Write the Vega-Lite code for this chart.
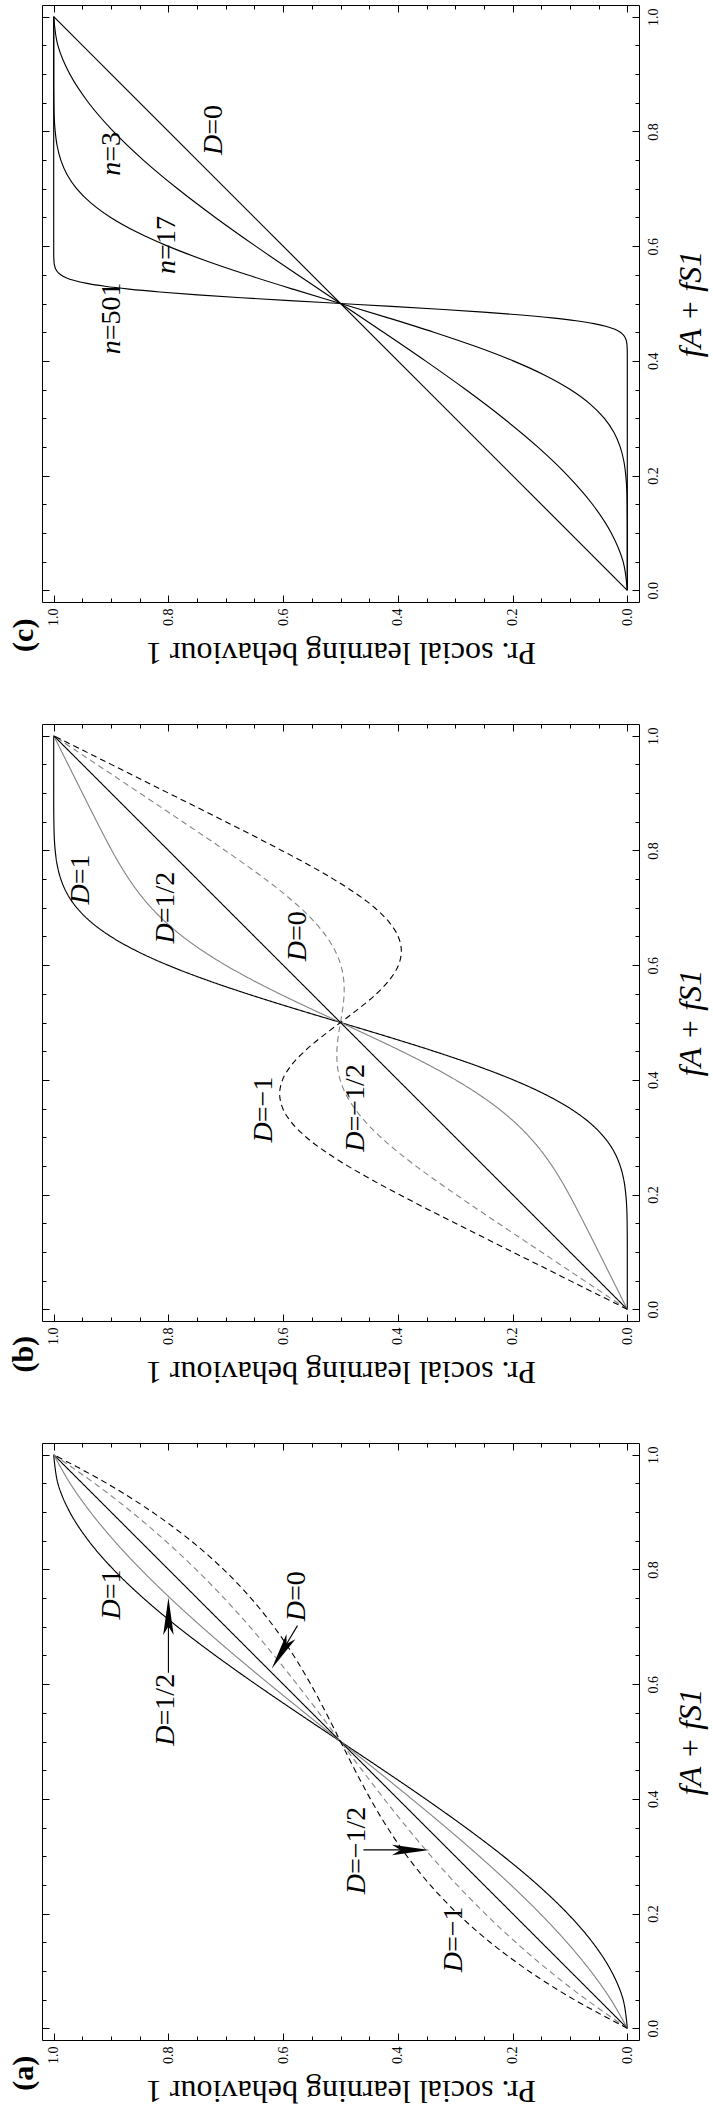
{
"$schema":"https://vega.github.io/schema/vega-lite/v6.json",
"background":"white",
"padding":{"left":8,"top":4,"right":2,"bottom":2},
"spacing":122,
"bounds":"flush",
"config":{"view":{"stroke":"black","strokeWidth":1},"text":{"font":"Liberation Serif","color":"black"},
"axis":{"domain":false,"grid":false,"tickColor":"black","tickWidth":1,"labelColor":"black","titleColor":"black","labelFont":"Liberation Serif","labelFontSize":14,"titleFont":"Liberation Serif","titleFontSize":32,"titleFontWeight":"normal","labelFlush":false,"labelOverlap":false,"labelBound":false}},
"datasets":{
"a":[
{"s":"D=1","f":0,"P":0},{"s":"D=1","f":0.05,"P":0.00725},{"s":"D=1","f":0.1,"P":0.028},{"s":"D=1","f":0.15,"P":0.06075},{"s":"D=1","f":0.2,"P":0.104},{"s":"D=1","f":0.25,"P":0.15625},{"s":"D=1","f":0.3,"P":0.216},{"s":"D=1","f":0.35,"P":0.28175},{"s":"D=1","f":0.4,"P":0.352},{"s":"D=1","f":0.45,"P":0.42525},{"s":"D=1","f":0.5,"P":0.5},{"s":"D=1","f":0.55,"P":0.57475},{"s":"D=1","f":0.6,"P":0.648},{"s":"D=1","f":0.65,"P":0.71825},{"s":"D=1","f":0.7,"P":0.784},{"s":"D=1","f":0.75,"P":0.84375},{"s":"D=1","f":0.8,"P":0.896},{"s":"D=1","f":0.85,"P":0.93925},{"s":"D=1","f":0.9,"P":0.972},{"s":"D=1","f":0.95,"P":0.99275},{"s":"D=1","f":1,"P":1},
{"s":"D=1/2","f":0,"P":0},{"s":"D=1/2","f":0.05,"P":0.0286},{"s":"D=1/2","f":0.1,"P":0.064},{"s":"D=1/2","f":0.15,"P":0.1054},{"s":"D=1/2","f":0.2,"P":0.152},{"s":"D=1/2","f":0.25,"P":0.2031},{"s":"D=1/2","f":0.3,"P":0.258},{"s":"D=1/2","f":0.35,"P":0.3159},{"s":"D=1/2","f":0.4,"P":0.376},{"s":"D=1/2","f":0.45,"P":0.4376},{"s":"D=1/2","f":0.5,"P":0.5},{"s":"D=1/2","f":0.55,"P":0.5624},{"s":"D=1/2","f":0.6,"P":0.624},{"s":"D=1/2","f":0.65,"P":0.6841},{"s":"D=1/2","f":0.7,"P":0.742},{"s":"D=1/2","f":0.75,"P":0.7969},{"s":"D=1/2","f":0.8,"P":0.848},{"s":"D=1/2","f":0.85,"P":0.8946},{"s":"D=1/2","f":0.9,"P":0.936},{"s":"D=1/2","f":0.95,"P":0.9714},{"s":"D=1/2","f":1,"P":1},
{"s":"D=0","f":0,"P":0},{"s":"D=0","f":1,"P":1},
{"s":"D=-1/2","f":0,"P":0},{"s":"D=-1/2","f":0.05,"P":0.0714},{"s":"D=-1/2","f":0.1,"P":0.136},{"s":"D=-1/2","f":0.15,"P":0.1946},{"s":"D=-1/2","f":0.2,"P":0.248},{"s":"D=-1/2","f":0.25,"P":0.2969},{"s":"D=-1/2","f":0.3,"P":0.342},{"s":"D=-1/2","f":0.35,"P":0.3841},{"s":"D=-1/2","f":0.4,"P":0.424},{"s":"D=-1/2","f":0.45,"P":0.4624},{"s":"D=-1/2","f":0.5,"P":0.5},{"s":"D=-1/2","f":0.55,"P":0.5376},{"s":"D=-1/2","f":0.6,"P":0.576},{"s":"D=-1/2","f":0.65,"P":0.6159},{"s":"D=-1/2","f":0.7,"P":0.658},{"s":"D=-1/2","f":0.75,"P":0.7031},{"s":"D=-1/2","f":0.8,"P":0.752},{"s":"D=-1/2","f":0.85,"P":0.8054},{"s":"D=-1/2","f":0.9,"P":0.864},{"s":"D=-1/2","f":0.95,"P":0.9286},{"s":"D=-1/2","f":1,"P":1},
{"s":"D=-1","f":0,"P":0},{"s":"D=-1","f":0.05,"P":0.09275},{"s":"D=-1","f":0.1,"P":0.172},{"s":"D=-1","f":0.15,"P":0.23925},{"s":"D=-1","f":0.2,"P":0.296},{"s":"D=-1","f":0.25,"P":0.34375},{"s":"D=-1","f":0.3,"P":0.384},{"s":"D=-1","f":0.35,"P":0.41825},{"s":"D=-1","f":0.4,"P":0.448},{"s":"D=-1","f":0.45,"P":0.47475},{"s":"D=-1","f":0.5,"P":0.5},{"s":"D=-1","f":0.55,"P":0.52525},{"s":"D=-1","f":0.6,"P":0.552},{"s":"D=-1","f":0.65,"P":0.58175},{"s":"D=-1","f":0.7,"P":0.616},{"s":"D=-1","f":0.75,"P":0.65625},{"s":"D=-1","f":0.8,"P":0.704},{"s":"D=-1","f":0.85,"P":0.76075},{"s":"D=-1","f":0.9,"P":0.828},{"s":"D=-1","f":0.95,"P":0.90725},{"s":"D=-1","f":1,"P":1}
],
"b":[
{"s":"D=1","f":0,"P":0},{"s":"D=1","f":0.025,"P":0},{"s":"D=1","f":0.05,"P":0},{"s":"D=1","f":0.075,"P":0},{"s":"D=1","f":0.1,"P":0.00001},{"s":"D=1","f":0.125,"P":0.00005},{"s":"D=1","f":0.15,"P":0.0003},{"s":"D=1","f":0.175,"P":0.0009},{"s":"D=1","f":0.2,"P":0.0026},{"s":"D=1","f":0.225,"P":0.006},{"s":"D=1","f":0.25,"P":0.0124},{"s":"D=1","f":0.275,"P":0.0232},{"s":"D=1","f":0.3,"P":0.0403},{"s":"D=1","f":0.325,"P":0.0652},{"s":"D=1","f":0.35,"P":0.0994},{"s":"D=1","f":0.375,"P":0.1439},{"s":"D=1","f":0.4,"P":0.1989},{"s":"D=1","f":0.425,"P":0.264},{"s":"D=1","f":0.45,"P":0.3374},{"s":"D=1","f":0.475,"P":0.4171},{"s":"D=1","f":0.5,"P":0.5},{"s":"D=1","f":0.525,"P":0.5829},{"s":"D=1","f":0.55,"P":0.6626},{"s":"D=1","f":0.575,"P":0.736},{"s":"D=1","f":0.6,"P":0.8011},{"s":"D=1","f":0.625,"P":0.8561},{"s":"D=1","f":0.65,"P":0.9006},{"s":"D=1","f":0.675,"P":0.9348},{"s":"D=1","f":0.7,"P":0.9597},{"s":"D=1","f":0.725,"P":0.9768},{"s":"D=1","f":0.75,"P":0.9876},{"s":"D=1","f":0.775,"P":0.994},{"s":"D=1","f":0.8,"P":0.9974},{"s":"D=1","f":0.825,"P":0.9991},{"s":"D=1","f":0.85,"P":0.9997},{"s":"D=1","f":0.875,"P":0.99995},{"s":"D=1","f":0.9,"P":0.99999},{"s":"D=1","f":0.925,"P":1},{"s":"D=1","f":0.95,"P":1},{"s":"D=1","f":0.975,"P":1},{"s":"D=1","f":1,"P":1},
{"s":"D=1/2","f":0,"P":0},{"s":"D=1/2","f":0.025,"P":0.0125},{"s":"D=1/2","f":0.05,"P":0.025},{"s":"D=1/2","f":0.075,"P":0.0375},{"s":"D=1/2","f":0.1,"P":0.05},{"s":"D=1/2","f":0.125,"P":0.0625},{"s":"D=1/2","f":0.15,"P":0.0752},{"s":"D=1/2","f":0.175,"P":0.088},{"s":"D=1/2","f":0.2,"P":0.1013},{"s":"D=1/2","f":0.225,"P":0.1155},{"s":"D=1/2","f":0.25,"P":0.1312},{"s":"D=1/2","f":0.275,"P":0.1491},{"s":"D=1/2","f":0.3,"P":0.1702},{"s":"D=1/2","f":0.325,"P":0.1951},{"s":"D=1/2","f":0.35,"P":0.2247},{"s":"D=1/2","f":0.375,"P":0.2595},{"s":"D=1/2","f":0.4,"P":0.2995},{"s":"D=1/2","f":0.425,"P":0.3445},{"s":"D=1/2","f":0.45,"P":0.3937},{"s":"D=1/2","f":0.475,"P":0.4461},{"s":"D=1/2","f":0.5,"P":0.5},{"s":"D=1/2","f":0.525,"P":0.5539},{"s":"D=1/2","f":0.55,"P":0.6063},{"s":"D=1/2","f":0.575,"P":0.6555},{"s":"D=1/2","f":0.6,"P":0.7005},{"s":"D=1/2","f":0.625,"P":0.7405},{"s":"D=1/2","f":0.65,"P":0.7753},{"s":"D=1/2","f":0.675,"P":0.8049},{"s":"D=1/2","f":0.7,"P":0.8298},{"s":"D=1/2","f":0.725,"P":0.8509},{"s":"D=1/2","f":0.75,"P":0.8688},{"s":"D=1/2","f":0.775,"P":0.8845},{"s":"D=1/2","f":0.8,"P":0.8987},{"s":"D=1/2","f":0.825,"P":0.912},{"s":"D=1/2","f":0.85,"P":0.9248},{"s":"D=1/2","f":0.875,"P":0.9375},{"s":"D=1/2","f":0.9,"P":0.95},{"s":"D=1/2","f":0.925,"P":0.9625},{"s":"D=1/2","f":0.95,"P":0.975},{"s":"D=1/2","f":0.975,"P":0.9875},{"s":"D=1/2","f":1,"P":1},
{"s":"D=0","f":0,"P":0},{"s":"D=0","f":1,"P":1},
{"s":"D=-1/2","f":0,"P":0},{"s":"D=-1/2","f":0.025,"P":0.0375},{"s":"D=-1/2","f":0.05,"P":0.075},{"s":"D=-1/2","f":0.075,"P":0.1125},{"s":"D=-1/2","f":0.1,"P":0.15},{"s":"D=-1/2","f":0.125,"P":0.1875},{"s":"D=-1/2","f":0.15,"P":0.2249},{"s":"D=-1/2","f":0.175,"P":0.2621},{"s":"D=-1/2","f":0.2,"P":0.2987},{"s":"D=-1/2","f":0.225,"P":0.3345},{"s":"D=-1/2","f":0.25,"P":0.3688},{"s":"D=-1/2","f":0.275,"P":0.4009},{"s":"D=-1/2","f":0.3,"P":0.4299},{"s":"D=-1/2","f":0.325,"P":0.4549},{"s":"D=-1/2","f":0.35,"P":0.4753},{"s":"D=-1/2","f":0.375,"P":0.4906},{"s":"D=-1/2","f":0.4,"P":0.5006},{"s":"D=-1/2","f":0.425,"P":0.5055},{"s":"D=-1/2","f":0.45,"P":0.5063},{"s":"D=-1/2","f":0.475,"P":0.504},{"s":"D=-1/2","f":0.5,"P":0.5},{"s":"D=-1/2","f":0.525,"P":0.496},{"s":"D=-1/2","f":0.55,"P":0.4937},{"s":"D=-1/2","f":0.575,"P":0.4945},{"s":"D=-1/2","f":0.6,"P":0.4994},{"s":"D=-1/2","f":0.625,"P":0.5094},{"s":"D=-1/2","f":0.65,"P":0.5247},{"s":"D=-1/2","f":0.675,"P":0.5451},{"s":"D=-1/2","f":0.7,"P":0.5701},{"s":"D=-1/2","f":0.725,"P":0.5991},{"s":"D=-1/2","f":0.75,"P":0.6312},{"s":"D=-1/2","f":0.775,"P":0.6655},{"s":"D=-1/2","f":0.8,"P":0.7013},{"s":"D=-1/2","f":0.825,"P":0.7379},{"s":"D=-1/2","f":0.85,"P":0.7751},{"s":"D=-1/2","f":0.875,"P":0.8125},{"s":"D=-1/2","f":0.9,"P":0.85},{"s":"D=-1/2","f":0.925,"P":0.8875},{"s":"D=-1/2","f":0.95,"P":0.925},{"s":"D=-1/2","f":0.975,"P":0.9625},{"s":"D=-1/2","f":1,"P":1},
{"s":"D=-1","f":0,"P":0},{"s":"D=-1","f":0.025,"P":0.05},{"s":"D=-1","f":0.05,"P":0.1},{"s":"D=-1","f":0.075,"P":0.15},{"s":"D=-1","f":0.1,"P":0.2},{"s":"D=-1","f":0.125,"P":0.25},{"s":"D=-1","f":0.15,"P":0.2997},{"s":"D=-1","f":0.175,"P":0.3491},{"s":"D=-1","f":0.2,"P":0.3974},{"s":"D=-1","f":0.225,"P":0.444},{"s":"D=-1","f":0.25,"P":0.4876},{"s":"D=-1","f":0.275,"P":0.5268},{"s":"D=-1","f":0.3,"P":0.5597},{"s":"D=-1","f":0.325,"P":0.5848},{"s":"D=-1","f":0.35,"P":0.6006},{"s":"D=-1","f":0.375,"P":0.6061},{"s":"D=-1","f":0.4,"P":0.6011},{"s":"D=-1","f":0.425,"P":0.586},{"s":"D=-1","f":0.45,"P":0.5626},{"s":"D=-1","f":0.475,"P":0.5329},{"s":"D=-1","f":0.5,"P":0.5},{"s":"D=-1","f":0.525,"P":0.4671},{"s":"D=-1","f":0.55,"P":0.4374},{"s":"D=-1","f":0.575,"P":0.414},{"s":"D=-1","f":0.6,"P":0.3989},{"s":"D=-1","f":0.625,"P":0.3939},{"s":"D=-1","f":0.65,"P":0.3994},{"s":"D=-1","f":0.675,"P":0.4152},{"s":"D=-1","f":0.7,"P":0.4403},{"s":"D=-1","f":0.725,"P":0.4732},{"s":"D=-1","f":0.75,"P":0.5124},{"s":"D=-1","f":0.775,"P":0.556},{"s":"D=-1","f":0.8,"P":0.6026},{"s":"D=-1","f":0.825,"P":0.6509},{"s":"D=-1","f":0.85,"P":0.7003},{"s":"D=-1","f":0.875,"P":0.75},{"s":"D=-1","f":0.9,"P":0.8},{"s":"D=-1","f":0.925,"P":0.85},{"s":"D=-1","f":0.95,"P":0.9},{"s":"D=-1","f":0.975,"P":0.95},{"s":"D=-1","f":1,"P":1}
],
"c":[
{"s":"n=3","f":0,"P":0},{"s":"n=3","f":0.05,"P":0.00725},{"s":"n=3","f":0.1,"P":0.028},{"s":"n=3","f":0.15,"P":0.06075},{"s":"n=3","f":0.2,"P":0.104},{"s":"n=3","f":0.25,"P":0.15625},{"s":"n=3","f":0.3,"P":0.216},{"s":"n=3","f":0.35,"P":0.28175},{"s":"n=3","f":0.4,"P":0.352},{"s":"n=3","f":0.45,"P":0.42525},{"s":"n=3","f":0.5,"P":0.5},{"s":"n=3","f":0.55,"P":0.57475},{"s":"n=3","f":0.6,"P":0.648},{"s":"n=3","f":0.65,"P":0.71825},{"s":"n=3","f":0.7,"P":0.784},{"s":"n=3","f":0.75,"P":0.84375},{"s":"n=3","f":0.8,"P":0.896},{"s":"n=3","f":0.85,"P":0.93925},{"s":"n=3","f":0.9,"P":0.972},{"s":"n=3","f":0.95,"P":0.99275},{"s":"n=3","f":1,"P":1},
{"s":"n=17","f":0,"P":0},{"s":"n=17","f":0.025,"P":0},{"s":"n=17","f":0.05,"P":0},{"s":"n=17","f":0.075,"P":0},{"s":"n=17","f":0.1,"P":0.00001},{"s":"n=17","f":0.125,"P":0.00005},{"s":"n=17","f":0.15,"P":0.0003},{"s":"n=17","f":0.175,"P":0.0009},{"s":"n=17","f":0.2,"P":0.0026},{"s":"n=17","f":0.225,"P":0.006},{"s":"n=17","f":0.25,"P":0.0124},{"s":"n=17","f":0.275,"P":0.0232},{"s":"n=17","f":0.3,"P":0.0403},{"s":"n=17","f":0.325,"P":0.0652},{"s":"n=17","f":0.35,"P":0.0994},{"s":"n=17","f":0.375,"P":0.1439},{"s":"n=17","f":0.4,"P":0.1989},{"s":"n=17","f":0.425,"P":0.264},{"s":"n=17","f":0.45,"P":0.3374},{"s":"n=17","f":0.475,"P":0.4171},{"s":"n=17","f":0.5,"P":0.5},{"s":"n=17","f":0.525,"P":0.5829},{"s":"n=17","f":0.55,"P":0.6626},{"s":"n=17","f":0.575,"P":0.736},{"s":"n=17","f":0.6,"P":0.8011},{"s":"n=17","f":0.625,"P":0.8561},{"s":"n=17","f":0.65,"P":0.9006},{"s":"n=17","f":0.675,"P":0.9348},{"s":"n=17","f":0.7,"P":0.9597},{"s":"n=17","f":0.725,"P":0.9768},{"s":"n=17","f":0.75,"P":0.9876},{"s":"n=17","f":0.775,"P":0.994},{"s":"n=17","f":0.8,"P":0.9974},{"s":"n=17","f":0.825,"P":0.9991},{"s":"n=17","f":0.85,"P":0.9997},{"s":"n=17","f":0.875,"P":0.99995},{"s":"n=17","f":0.9,"P":0.99999},{"s":"n=17","f":0.925,"P":1},{"s":"n=17","f":0.95,"P":1},{"s":"n=17","f":0.975,"P":1},{"s":"n=17","f":1,"P":1},
{"s":"n=501","f":0,"P":0},{"s":"n=501","f":0.2,"P":0},{"s":"n=501","f":0.4,"P":0},{"s":"n=501","f":0.42,"P":0.00014},{"s":"n=501","f":0.43,"P":0.00078},{"s":"n=501","f":0.435,"P":0.00167},{"s":"n=501","f":0.44,"P":0.00341},{"s":"n=501","f":0.445,"P":0.00662},{"s":"n=501","f":0.45,"P":0.01223},{"s":"n=501","f":0.455,"P":0.02155},{"s":"n=501","f":0.46,"P":0.0362},{"s":"n=501","f":0.465,"P":0.0581},{"s":"n=501","f":0.47,"P":0.0892},{"s":"n=501","f":0.475,"P":0.1313},{"s":"n=501","f":0.48,"P":0.1851},{"s":"n=501","f":0.485,"P":0.2509},{"s":"n=501","f":0.49,"P":0.3272},{"s":"n=501","f":0.495,"P":0.4114},{"s":"n=501","f":0.5,"P":0.5},{"s":"n=501","f":0.505,"P":0.5886},{"s":"n=501","f":0.51,"P":0.6728},{"s":"n=501","f":0.515,"P":0.7491},{"s":"n=501","f":0.52,"P":0.8149},{"s":"n=501","f":0.525,"P":0.8687},{"s":"n=501","f":0.53,"P":0.9108},{"s":"n=501","f":0.535,"P":0.9419},{"s":"n=501","f":0.54,"P":0.9638},{"s":"n=501","f":0.545,"P":0.97845},{"s":"n=501","f":0.55,"P":0.98777},{"s":"n=501","f":0.555,"P":0.99338},{"s":"n=501","f":0.56,"P":0.99659},{"s":"n=501","f":0.565,"P":0.99833},{"s":"n=501","f":0.57,"P":0.99922},{"s":"n=501","f":0.58,"P":0.99986},{"s":"n=501","f":0.6,"P":1},{"s":"n=501","f":0.8,"P":1},{"s":"n=501","f":1,"P":1},
{"s":"D=0","f":0,"P":0},{"s":"D=0","f":1,"P":1}
],
"la":[{"P":0.899,"f":0.748,"lhs":"D","rhs":"=1"},{"P":0.804,"f":0.528,"lhs":"D","rhs":"=1/2"},{"P":0.575,"f":0.745,"lhs":"D","rhs":"=0"},{"P":0.472,"f":0.269,"lhs":"D","rhs":"=−1/2"},{"P":0.302,"f":0.133,"lhs":"D","rhs":"=−1"}],
"lb":[{"P":0.953,"f":0.741,"lhs":"D","rhs":"=1"},{"P":0.804,"f":0.673,"lhs":"D","rhs":"=1/2"},{"P":0.574,"f":0.642,"lhs":"D","rhs":"=0"},{"P":0.634,"f":0.326,"lhs":"D","rhs":"=−1"},{"P":0.473,"f":0.31,"lhs":"D","rhs":"=−1/2"}],
"lc":[{"P":0.899,"f":0.747,"lhs":"n","rhs":"=3"},{"P":0.721,"f":0.794,"lhs":"D","rhs":"=0"},{"P":0.802,"f":0.576,"lhs":"n","rhs":"=17"},{"P":0.899,"f":0.436,"lhs":"n","rhs":"=501"}],
"arr":[{"id":"h","P":0.8,"f":0.62,"P2":0.8,"f2":0.73},{"id":"z","P":0.575,"f":0.702,"P2":0.609,"f2":0.645},{"id":"m","P":0.46,"f":0.311,"P2":0.366,"f2":0.311}],
"tips":[{"id":"h","P":0.8,"f":0.751},{"id":"z","P":0.62,"f":0.627},{"id":"m","P":0.345,"f":0.311}]
},
"vconcat":[
{"width":597,"height":597,
"resolve":{"axis":{"x":"independent","y":"independent"}},
"layer":[
{"data":{"name":"c"},"mark":{"type":"line","interpolate":"catmull-rom","color":"black","strokeWidth":1.15},
"encoding":{
"x":{"field":"P","type":"quantitative","scale":{"domain":[-0.0204,1.0204],"reverse":true,"nice":false,"zero":false},
"axis":{"orient":"bottom","values":[0,0.05,0.1,0.15,0.2,0.25,0.3,0.35,0.4,0.45,0.5,0.55,0.6,0.65,0.7,0.75,0.8,0.85,0.9,0.95,1],"labelExpr":"abs(datum.value*5-round(datum.value*5))<0.001 ? format(datum.value,'.1f') : ''","tickSize":{"condition":{"test":"abs(datum.value*5-round(datum.value*5))<0.001","value":-7},"value":-4},"labelAngle":270,"labelAlign":"right","labelBaseline":"middle","labelPadding":13,"title":"Pr. social learning behaviour 1","titleAngle":180,"titleBaseline":"bottom","titlePadding":10}},
"y":{"field":"f","type":"quantitative","scale":{"domain":[-0.0204,1.0204],"nice":false,"zero":false},
"axis":{"orient":"right","values":[0,0.05,0.1,0.15,0.2,0.25,0.3,0.35,0.4,0.45,0.5,0.55,0.6,0.65,0.7,0.75,0.8,0.85,0.9,0.95,1],"labelExpr":"abs(datum.value*5-round(datum.value*5))<0.001 ? format(datum.value,'.1f') : ''","tickSize":{"condition":{"test":"abs(datum.value*5-round(datum.value*5))<0.001","value":-7},"value":-4},"labelAngle":270,"labelAlign":"center","labelBaseline":"top","labelPadding":14,"title":"fA + fS1","titleAngle":270,"titleBaseline":"top","titleFontStyle":"italic","titlePadding":12}},
"detail":{"field":"s"},
"order":{"field":"f"}}},
{"data":{"name":"c"},"mark":{"type":"point","opacity":0},
"encoding":{
"x":{"field":"P","type":"quantitative","axis":{"orient":"top","values":[0,0.05,0.1,0.15,0.2,0.25,0.3,0.35,0.4,0.45,0.5,0.55,0.6,0.65,0.7,0.75,0.8,0.85,0.9,0.95,1],"tickSize":{"condition":{"test":"abs(datum.value*5-round(datum.value*5))<0.001","value":-7},"value":-4},"labels":false,"title":null}},
"y":{"field":"f","type":"quantitative","axis":{"orient":"left","values":[0,0.05,0.1,0.15,0.2,0.25,0.3,0.35,0.4,0.45,0.5,0.55,0.6,0.65,0.7,0.75,0.8,0.85,0.9,0.95,1],"tickSize":{"condition":{"test":"abs(datum.value*5-round(datum.value*5))<0.001","value":-7},"value":-4},"labels":false,"title":null}}}},
{"data":{"name":"lc"},"mark":{"type":"text","angle":270,"align":"right","baseline":"middle","fontStyle":"italic","fontSize":28},
"encoding":{"x":{"field":"P","type":"quantitative","axis":null},"y":{"field":"f","type":"quantitative","axis":null},"text":{"field":"lhs"}}},
{"data":{"name":"lc"},"mark":{"type":"text","angle":270,"align":"left","baseline":"middle","fontSize":28},
"encoding":{"x":{"field":"P","type":"quantitative","axis":null},"y":{"field":"f","type":"quantitative","axis":null},"text":{"field":"rhs"}}},
{"data":{"values":[{"t":"(c)"}]},"mark":{"type":"text","angle":270,"align":"center","baseline":"middle","fontSize":30,"fontWeight":"bold"},
"encoding":{"x":{"datum":1.0526,"type":"quantitative","axis":null},"y":{"datum":-0.0784,"type":"quantitative","axis":null},"text":{"field":"t"}}}
]},
{"width":597,"height":597,
"resolve":{"axis":{"x":"independent","y":"independent"}},
"layer":[
{"data":{"name":"b"},"mark":{"type":"line","interpolate":"catmull-rom"},
"encoding":{
"x":{"field":"P","type":"quantitative","scale":{"domain":[-0.0204,1.0204],"reverse":true,"nice":false,"zero":false},
"axis":{"orient":"bottom","values":[0,0.05,0.1,0.15,0.2,0.25,0.3,0.35,0.4,0.45,0.5,0.55,0.6,0.65,0.7,0.75,0.8,0.85,0.9,0.95,1],"labelExpr":"abs(datum.value*5-round(datum.value*5))<0.001 ? format(datum.value,'.1f') : ''","tickSize":{"condition":{"test":"abs(datum.value*5-round(datum.value*5))<0.001","value":-7},"value":-4},"labelAngle":270,"labelAlign":"right","labelBaseline":"middle","labelPadding":13,"title":"Pr. social learning behaviour 1","titleAngle":180,"titleBaseline":"bottom","titlePadding":10}},
"y":{"field":"f","type":"quantitative","scale":{"domain":[-0.0204,1.0204],"nice":false,"zero":false},
"axis":{"orient":"right","values":[0,0.05,0.1,0.15,0.2,0.25,0.3,0.35,0.4,0.45,0.5,0.55,0.6,0.65,0.7,0.75,0.8,0.85,0.9,0.95,1],"labelExpr":"abs(datum.value*5-round(datum.value*5))<0.001 ? format(datum.value,'.1f') : ''","tickSize":{"condition":{"test":"abs(datum.value*5-round(datum.value*5))<0.001","value":-7},"value":-4},"labelAngle":270,"labelAlign":"center","labelBaseline":"top","labelPadding":14,"title":"fA + fS1","titleAngle":270,"titleBaseline":"top","titleFontStyle":"italic","titlePadding":12}},
"color":{"field":"s","type":"nominal","scale":{"domain":["D=1","D=1/2","D=0","D=-1/2","D=-1"],"range":["#000000","#858585","#000000","#858585","#000000"]},"legend":null},
"strokeDash":{"field":"s","type":"nominal","scale":{"domain":["D=1","D=1/2","D=0","D=-1/2","D=-1"],"range":[[1,0],[1,0],[1,0],[6,4],[6,4]]},"legend":null},
"strokeWidth":{"field":"s","type":"ordinal","scale":{"domain":["D=1","D=1/2","D=0","D=-1/2","D=-1"],"range":[1.15,1.1,1.9,1.1,1.15]},"legend":null},
"order":{"field":"f"}}},
{"data":{"name":"b"},"mark":{"type":"point","opacity":0},
"encoding":{
"x":{"field":"P","type":"quantitative","axis":{"orient":"top","values":[0,0.05,0.1,0.15,0.2,0.25,0.3,0.35,0.4,0.45,0.5,0.55,0.6,0.65,0.7,0.75,0.8,0.85,0.9,0.95,1],"tickSize":{"condition":{"test":"abs(datum.value*5-round(datum.value*5))<0.001","value":-7},"value":-4},"labels":false,"title":null}},
"y":{"field":"f","type":"quantitative","axis":{"orient":"left","values":[0,0.05,0.1,0.15,0.2,0.25,0.3,0.35,0.4,0.45,0.5,0.55,0.6,0.65,0.7,0.75,0.8,0.85,0.9,0.95,1],"tickSize":{"condition":{"test":"abs(datum.value*5-round(datum.value*5))<0.001","value":-7},"value":-4},"labels":false,"title":null}}}},
{"data":{"name":"lb"},"mark":{"type":"text","angle":270,"align":"right","baseline":"middle","fontStyle":"italic","fontSize":28},
"encoding":{"x":{"field":"P","type":"quantitative","axis":null},"y":{"field":"f","type":"quantitative","axis":null},"text":{"field":"lhs"}}},
{"data":{"name":"lb"},"mark":{"type":"text","angle":270,"align":"left","baseline":"middle","fontSize":28},
"encoding":{"x":{"field":"P","type":"quantitative","axis":null},"y":{"field":"f","type":"quantitative","axis":null},"text":{"field":"rhs"}}},
{"data":{"values":[{"t":"(b)"}]},"mark":{"type":"text","angle":270,"align":"center","baseline":"middle","fontSize":30,"fontWeight":"bold"},
"encoding":{"x":{"datum":1.0526,"type":"quantitative","axis":null},"y":{"datum":-0.0784,"type":"quantitative","axis":null},"text":{"field":"t"}}}
]},
{"width":597,"height":597,
"resolve":{"axis":{"x":"independent","y":"independent"}},
"layer":[
{"data":{"name":"a"},"mark":{"type":"line","interpolate":"catmull-rom"},
"encoding":{
"x":{"field":"P","type":"quantitative","scale":{"domain":[-0.0204,1.0204],"reverse":true,"nice":false,"zero":false},
"axis":{"orient":"bottom","values":[0,0.05,0.1,0.15,0.2,0.25,0.3,0.35,0.4,0.45,0.5,0.55,0.6,0.65,0.7,0.75,0.8,0.85,0.9,0.95,1],"labelExpr":"abs(datum.value*5-round(datum.value*5))<0.001 ? format(datum.value,'.1f') : ''","tickSize":{"condition":{"test":"abs(datum.value*5-round(datum.value*5))<0.001","value":-7},"value":-4},"labelAngle":270,"labelAlign":"right","labelBaseline":"middle","labelPadding":13,"title":"Pr. social learning behaviour 1","titleAngle":180,"titleBaseline":"bottom","titlePadding":10}},
"y":{"field":"f","type":"quantitative","scale":{"domain":[-0.0204,1.0204],"nice":false,"zero":false},
"axis":{"orient":"right","values":[0,0.05,0.1,0.15,0.2,0.25,0.3,0.35,0.4,0.45,0.5,0.55,0.6,0.65,0.7,0.75,0.8,0.85,0.9,0.95,1],"labelExpr":"abs(datum.value*5-round(datum.value*5))<0.001 ? format(datum.value,'.1f') : ''","tickSize":{"condition":{"test":"abs(datum.value*5-round(datum.value*5))<0.001","value":-7},"value":-4},"labelAngle":270,"labelAlign":"center","labelBaseline":"top","labelPadding":14,"title":"fA + fS1","titleAngle":270,"titleBaseline":"top","titleFontStyle":"italic","titlePadding":12}},
"color":{"field":"s","type":"nominal","scale":{"domain":["D=1","D=1/2","D=0","D=-1/2","D=-1"],"range":["#000000","#858585","#000000","#858585","#000000"]},"legend":null},
"strokeDash":{"field":"s","type":"nominal","scale":{"domain":["D=1","D=1/2","D=0","D=-1/2","D=-1"],"range":[[1,0],[1,0],[1,0],[6,4],[6,4]]},"legend":null},
"strokeWidth":{"field":"s","type":"ordinal","scale":{"domain":["D=1","D=1/2","D=0","D=-1/2","D=-1"],"range":[1.15,1.1,1.9,1.1,1.15]},"legend":null},
"order":{"field":"f"}}},
{"data":{"name":"a"},"mark":{"type":"point","opacity":0},
"encoding":{
"x":{"field":"P","type":"quantitative","axis":{"orient":"top","values":[0,0.05,0.1,0.15,0.2,0.25,0.3,0.35,0.4,0.45,0.5,0.55,0.6,0.65,0.7,0.75,0.8,0.85,0.9,0.95,1],"tickSize":{"condition":{"test":"abs(datum.value*5-round(datum.value*5))<0.001","value":-7},"value":-4},"labels":false,"title":null}},
"y":{"field":"f","type":"quantitative","axis":{"orient":"left","values":[0,0.05,0.1,0.15,0.2,0.25,0.3,0.35,0.4,0.45,0.5,0.55,0.6,0.65,0.7,0.75,0.8,0.85,0.9,0.95,1],"tickSize":{"condition":{"test":"abs(datum.value*5-round(datum.value*5))<0.001","value":-7},"value":-4},"labels":false,"title":null}}}},
{"data":{"name":"arr"},"mark":{"type":"rule","color":"black","strokeWidth":1.1},
"encoding":{"x":{"field":"P","type":"quantitative","axis":null},"x2":{"field":"P2"},"y":{"field":"f","type":"quantitative","axis":null},"y2":{"field":"f2"}}},
{"data":{"name":"tips"},"transform":[{"filter":"datum.id==='h'"}],"mark":{"type":"point","shape":"M0,0L0.28,2L0,1.55L-0.28,2Z","size":1400,"filled":true,"color":"black","opacity":1,"angle":0},
"encoding":{"x":{"field":"P","type":"quantitative","axis":null},"y":{"field":"f","type":"quantitative","axis":null}}},
{"data":{"name":"tips"},"transform":[{"filter":"datum.id==='z'"}],"mark":{"type":"point","shape":"M0,0L0.28,2L0,1.55L-0.28,2Z","size":1400,"filled":true,"color":"black","opacity":1,"angle":211},
"encoding":{"x":{"field":"P","type":"quantitative","axis":null},"y":{"field":"f","type":"quantitative","axis":null}}},
{"data":{"name":"tips"},"transform":[{"filter":"datum.id==='m'"}],"mark":{"type":"point","shape":"M0,0L0.28,2L0,1.55L-0.28,2Z","size":1400,"filled":true,"color":"black","opacity":1,"angle":90},
"encoding":{"x":{"field":"P","type":"quantitative","axis":null},"y":{"field":"f","type":"quantitative","axis":null}}},
{"data":{"name":"la"},"mark":{"type":"text","angle":270,"align":"right","baseline":"middle","fontStyle":"italic","fontSize":28},
"encoding":{"x":{"field":"P","type":"quantitative","axis":null},"y":{"field":"f","type":"quantitative","axis":null},"text":{"field":"lhs"}}},
{"data":{"name":"la"},"mark":{"type":"text","angle":270,"align":"left","baseline":"middle","fontSize":28},
"encoding":{"x":{"field":"P","type":"quantitative","axis":null},"y":{"field":"f","type":"quantitative","axis":null},"text":{"field":"rhs"}}},
{"data":{"values":[{"t":"(a)"}]},"mark":{"type":"text","angle":270,"align":"center","baseline":"middle","fontSize":30,"fontWeight":"bold"},
"encoding":{"x":{"datum":1.0526,"type":"quantitative","axis":null},"y":{"datum":-0.0784,"type":"quantitative","axis":null},"text":{"field":"t"}}}
]}
]
}
